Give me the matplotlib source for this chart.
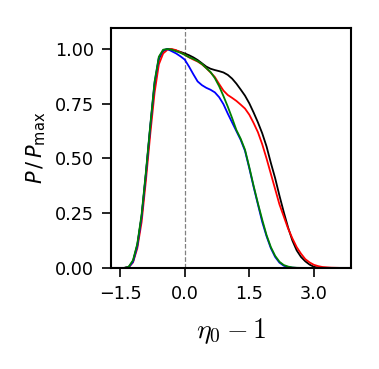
import matplotlib
matplotlib.use("Agg")
import matplotlib.pyplot as plt

# x grid (eta_0 - 1) used for all series
x = [-1.7, -1.5, -1.4, -1.3, -1.2, -1.1, -1.0, -0.9, -0.8, -0.7, -0.6, -0.5, -0.4, -0.3, -0.2, -0.1,
     0.0, 0.1, 0.2, 0.3, 0.4, 0.5, 0.6, 0.7, 0.8, 0.9, 1.0, 1.1, 1.2, 1.3, 1.4, 1.5, 1.6, 1.7, 1.8, 1.9,
     2.0, 2.1, 2.2, 2.3, 2.4, 2.5, 2.6, 2.7, 2.8, 2.9, 3.0, 3.1, 3.2, 3.4, 3.6, 3.86]

black = [0, 0, 0.0, 0.004, 0.03, 0.105, 0.235, 0.43, 0.64, 0.835, 0.955, 0.992, 1.0, 0.998, 0.993, 0.987,
         0.98, 0.972, 0.962, 0.95, 0.935, 0.92, 0.91, 0.904, 0.899, 0.893, 0.882, 0.865, 0.842, 0.815, 0.787, 0.752, 0.71, 0.665, 0.615, 0.555,
         0.48, 0.41, 0.33, 0.255, 0.185, 0.125, 0.08, 0.05, 0.03, 0.015, 0.005, 0.001, 0.0, 0.0, 0.0, 0.0]

red = [0, 0, 0.0, 0.003, 0.025, 0.09, 0.21, 0.4, 0.61, 0.8, 0.93, 0.98, 0.997, 1.0, 0.995, 0.985,
       0.974, 0.962, 0.952, 0.943, 0.93, 0.913, 0.893, 0.872, 0.84, 0.81, 0.79, 0.777, 0.763, 0.746, 0.728, 0.7, 0.662, 0.62, 0.565, 0.5,
       0.43, 0.36, 0.29, 0.235, 0.18, 0.135, 0.095, 0.065, 0.04, 0.025, 0.014, 0.008, 0.004, 0.001, 0.0, 0.0]

blue = [0, 0, 0.0, 0.003, 0.028, 0.1, 0.235, 0.43, 0.645, 0.845, 0.96, 0.995, 1.0, 0.99, 0.98, 0.967,
        0.952, 0.92, 0.885, 0.852, 0.835, 0.823, 0.814, 0.802, 0.78, 0.748, 0.705, 0.665, 0.625, 0.585, 0.535, 0.455, 0.37, 0.29, 0.21, 0.145,
        0.09, 0.05, 0.024, 0.01, 0.004, 0.001, 0.0, 0.0, 0.0, 0.0, 0.0, 0.0, 0.0, 0.0, 0.0, 0.0]

green = [0, 0, 0.0, 0.005, 0.035, 0.11, 0.245, 0.44, 0.65, 0.85, 0.965, 0.997, 1.0, 0.997, 0.99, 0.983,
         0.974, 0.963, 0.955, 0.945, 0.932, 0.913, 0.895, 0.867, 0.83, 0.785, 0.737, 0.685, 0.63, 0.59, 0.54, 0.46, 0.375, 0.295, 0.22, 0.15,
         0.095, 0.055, 0.028, 0.013, 0.006, 0.002, 0.0005, 0.0, 0.0, 0.0, 0.0, 0.0, 0.0, 0.0, 0.0, 0.0]

xticks = [-1.5, 0.0, 1.5, 3.0]
yticks = [0.0, 0.25, 0.5, 0.75, 1.0]

fig = plt.figure(figsize=(3.79, 3.69), dpi=100)
ax = fig.add_axes([0.293, 0.274, 0.633, 0.65])

ax.axvline(0.0, color="gray", ls="--", lw=0.9, zorder=1)
for ys, c in [(black, "black"), (red, "red"), (blue, "blue"), (green, "green")]:
    ax.plot(x, ys, color=c, lw=1.3, zorder=2)

ax.set_xlim(-1.71, 3.86)
ax.set_ylim(0, 1.096)
ax.set_xticks(xticks)
ax.set_xticklabels([f"{t:.1f}".replace("-", "\u2212") for t in xticks])
ax.set_yticks(yticks)
ax.set_yticklabels([f"{t:.2f}" for t in yticks])
ax.tick_params(labelsize=12.7, length=6.5, width=1.2, pad=6)
for s in ax.spines.values():
    s.set_linewidth(1.5)

ax.set_ylabel(r"$P\,/\,P_{\mathrm{max}}$", fontsize=15, labelpad=5)
ax.set_xlabel(r"$\eta_0-1$", fontsize=20, math_fontfamily="cm", labelpad=9)

fig.savefig("out.png", dpi=100)
